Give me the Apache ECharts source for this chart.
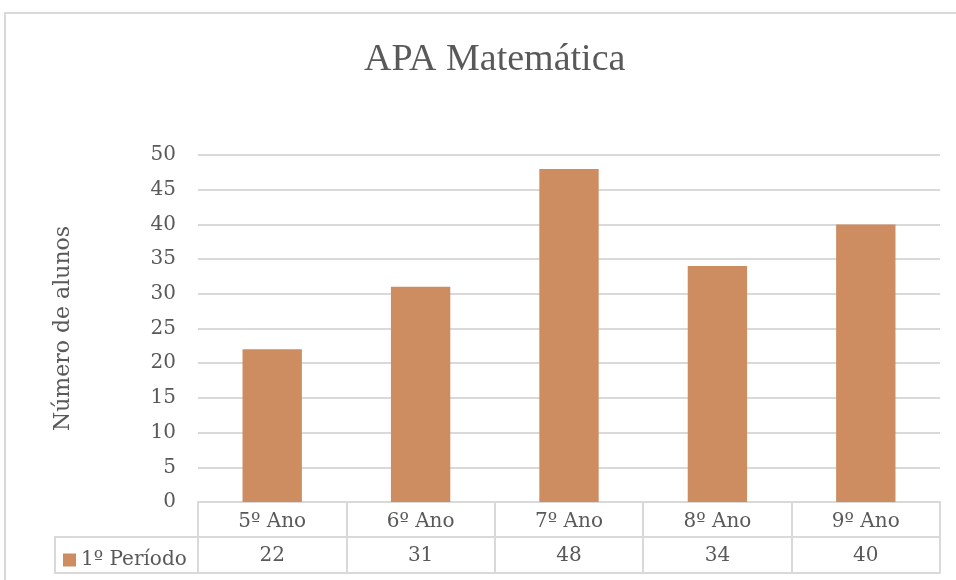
<!DOCTYPE html>
<html>
<head>
<meta charset="utf-8">
<script src="https://cdn.jsdelivr.net/npm/echarts@6/dist/echarts.min.js"></script>
<style>
  html, body { margin: 0; padding: 0; background: #fff; }
  #chart { width: 956px; height: 580px; }
</style>
</head>
<body>
<div id="chart"></div>
<script>
const categories = ['5º Ano', '6º Ano', '7º Ano', '8º Ano', '9º Ano']
const seriesName = '1º Período'
const values = [22, 31, 48, 34, 40]

const FONT = "'DejaVu Serif', 'Liberation Serif', serif"
const TEXT = '#595959'
const LINE = '#D9D9D9'
const BAR = '#CD8D60'

const chart = echarts.init(document.getElementById('chart'))

const option = {
  backgroundColor: '#fff',
  animation: false,
  title: {
    text: 'APA Matemática',
    left: 359,
    top: 36,
    textStyle: { color: TEXT, fontSize: 38, fontWeight: 'normal', fontFamily: "'Liberation Serif', serif" },
  },
  legend: {
    data: [seriesName],
    left: 58,
    top: 545,
    icon: 'rect',
    itemWidth: 13,
    itemHeight: 13,
    itemGap: 4,
    textStyle: { color: TEXT, fontSize: 20, fontFamily: FONT },
  },
  grid: { left: 198, right: 16, top: 155, bottom: 78 },
  xAxis: [
    {
      type: 'category',
      data: categories,
      axisLine: { lineStyle: { color: LINE, width: 2 } },
      axisTick: { show: true, length: 71, lineStyle: { color: LINE, width: 2 } },
      axisLabel: { color: TEXT, fontSize: 20, fontFamily: FONT, margin: 10 },
    },
    {
      type: 'category',
      data: categories,
      position: 'bottom',
      offset: 35,
      axisLine: { lineStyle: { color: LINE, width: 2 } },
      axisTick: { show: false },
      axisLabel: {
        color: TEXT, fontSize: 20, fontFamily: FONT, margin: 9,
        formatter: (v, i) => String(values[i]),
      },
    },
    {
      type: 'category',
      data: categories,
      position: 'bottom',
      offset: 71,
      axisLine: { lineStyle: { color: LINE, width: 2 } },
      axisTick: { show: false },
      axisLabel: { show: false },
    },
  ],
  yAxis: {
    type: 'value',
    min: 0,
    max: 50,
    interval: 5,
    name: 'Número de alunos',
    nameLocation: 'middle',
    nameGap: 124,
    nameTextStyle: { color: TEXT, fontSize: 22, fontFamily: FONT },
    axisLine: { show: false },
    axisTick: { show: false },
    axisLabel: { color: TEXT, fontSize: 20, fontFamily: FONT, margin: 22 },
    splitLine: { lineStyle: { color: LINE, width: 2 } },
  },
  series: [
    {
      name: seriesName,
      type: 'bar',
      data: values,
      barWidth: '40%',
      itemStyle: { color: BAR },
    },
  ],
  graphic: [
    {
      type: 'rect',
      shape: { x: 5, y: 13, width: 1000, height: 700 },
      style: { fill: 'none', stroke: LINE, lineWidth: 2 },
      silent: true,
    },
    {
      type: 'polyline',
      shape: { points: [[198, 537], [55, 537], [55, 573], [198, 573]] },
      style: { fill: 'none', stroke: LINE, lineWidth: 2 },
      silent: true,
    },
  ],
}

chart.setOption(option)
</script>
</body>
</html>
